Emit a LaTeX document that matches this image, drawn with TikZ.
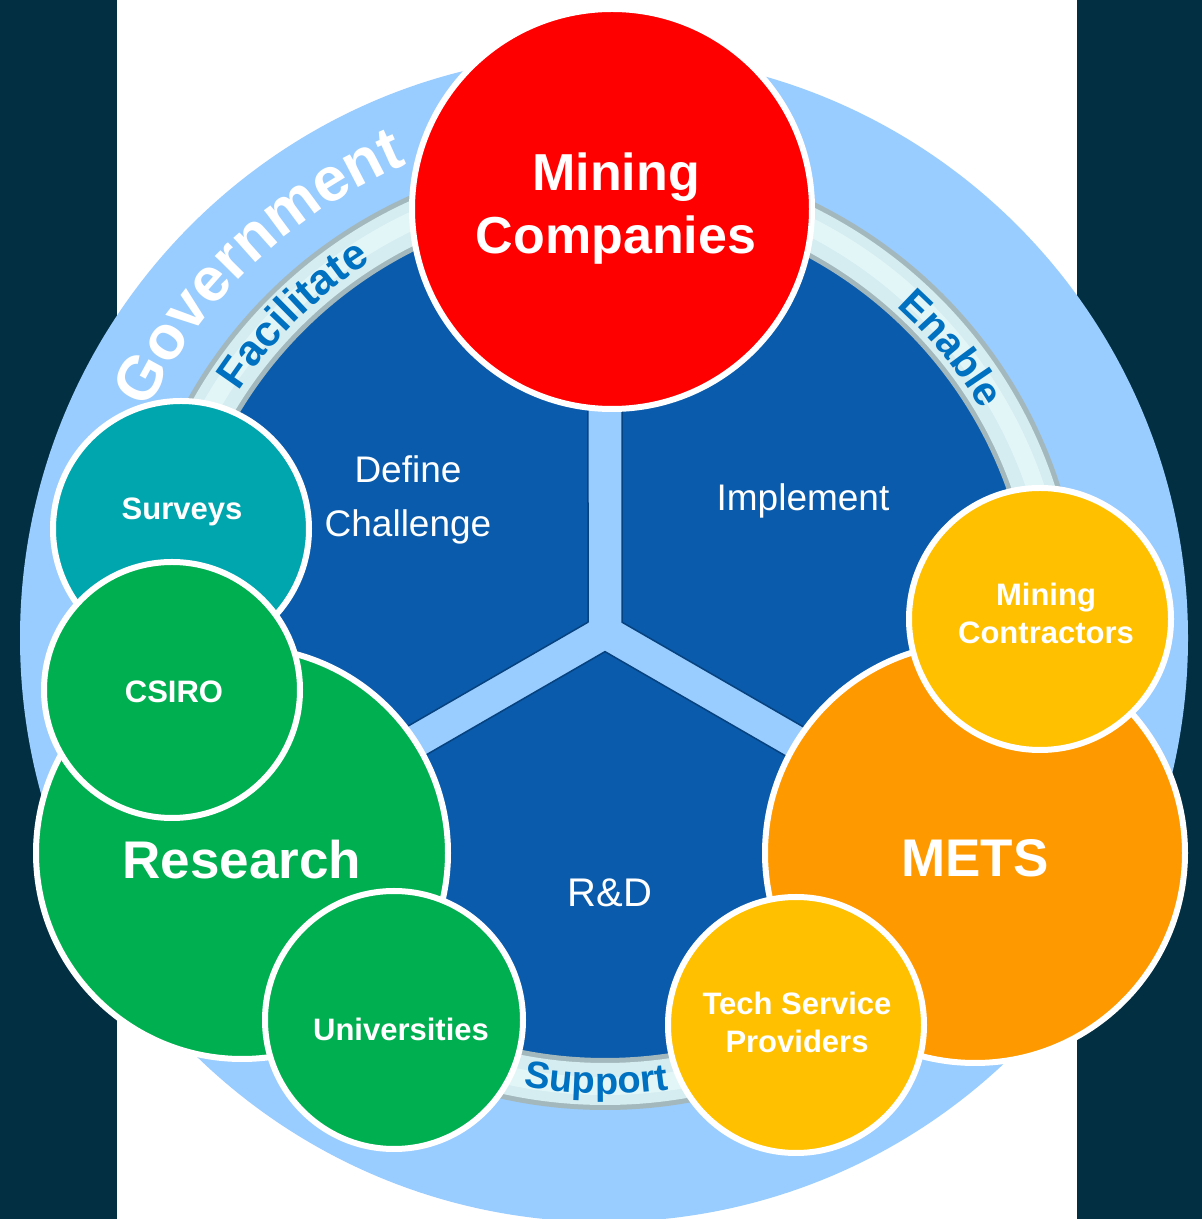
\documentclass[tikz,border=0pt]{standalone}
\usepackage{fontspec}
\setmainfont{Liberation Sans}
\usetikzlibrary{decorations.text,calc}
\definecolor{navy}{HTML}{032F42}
\definecolor{lblue}{HTML}{99CCFF}
\definecolor{secblue}{HTML}{0A5BAB}
\definecolor{secedge}{HTML}{06427F}
\definecolor{ringpale}{HTML}{D5EDF0}
\definecolor{ringgray}{HTML}{A3B8BC}
\definecolor{ringhi}{HTML}{E2F6F8}
\definecolor{cred}{HTML}{FF0000}
\definecolor{cteal}{HTML}{00A6AD}
\definecolor{cgreen}{HTML}{00AF50}
\definecolor{corange}{HTML}{FF9900}
\definecolor{cyellow}{HTML}{FFC000}
\definecolor{ringtext}{HTML}{0070C0}
\begin{document}
\begin{tikzpicture}[x=1pt,y=1pt,
  bubble/.style={circle, draw=white, line width=6pt, inner sep=0pt, outer sep=0pt},
  lbl/.style={anchor=base, text=white, inner sep=0pt, font=\fontsize{#1}{#1}\selectfont\bfseries},
  seclbl/.style={anchor=base, text=white, inner sep=0pt, font=\fontsize{#1}{#1}\selectfont},
  sector/.style={fill=secblue, draw=secedge, line width=1.5pt, line join=round},
]
\useasboundingbox (0,0) rectangle (1202,1219);
\coordinate (C) at (605,587);
\coordinate (O) at (604,581);
% background
\fill[white] (0,0) rectangle (1202,1219);
\fill[navy] (0,0) rectangle (117,1219);
\fill[navy] (1077,0) rectangle (1202,1219);
\fill[lblue] (O) circle[radius=584];
% sectors
\draw[sector] ($(C)+(150:19.63)$) -- ($(C)+(92.28:428)$) arc[start angle=92.28, end angle=207.72, radius=428] -- cycle;
\draw[sector] ($(C)+(30:19.63)$) -- ($(C)+(87.72:428)$) arc[start angle=87.72, end angle=-27.72, radius=428] -- cycle;
\draw[sector] ($(C)+(270:19.63)$) -- ($(C)+(212.28:428)$) arc[start angle=212.28, end angle=327.72, radius=428] -- cycle;
% ring
\draw[ringgray, line width=52pt] (C) circle[radius=452];
\draw[ringpale, line width=42pt] (C) circle[radius=452];
\draw[ringhi, line width=18pt] (C) circle[radius=454];
% ring labels
\path[decorate, decoration={text along path, text align=center,
  text={|\fontsize{43}{43}\selectfont\bfseries\color{ringtext}|Facilitate}}]
  ($(C)+(165:438)$) arc[start angle=165, end angle=104, radius=438];
\path[decorate, decoration={text along path, text align=center,
  text={|\fontsize{41}{41}\selectfont\bfseries\color{ringtext}|Enable}}]
  ($(C)+(70:437)$) arc[start angle=70, end angle=8.6, radius=437];
\path[decorate, decoration={text along path, text align=center,
  text={|\fontsize{38}{38}\selectfont\bfseries\color{ringtext}|Support}}]
  ($(C)+(240:462)$) arc[start angle=240, end angle=297.8, radius=462];
\path[decorate, decoration={text along path, text align=center,
  text={|\fontsize{62}{62}\selectfont\bfseries\color{white}|Government}}]
  ($(C)+(175:508)$) arc[start angle=175, end angle=92, radius=508];
% sector labels
\node[seclbl=37] (def1) at (408,736) {Define};
\node[seclbl=37] (def2) at (408,682) {Challenge};
\node[seclbl=37] (impl) at (803,708) {Implement};
\node[seclbl=40] (rd) at (610,312) {R\&D};
% bubbles
\node[bubble, fill=cred, minimum size=400pt] (mc) at (612,1010) {};
\node[bubble, fill=cteal, minimum size=256pt] (sv) at (181,690) {};
\node[bubble, fill=cgreen, minimum size=412pt] (rs) at (242,366) {};
\node[bubble, fill=cgreen, minimum size=256pt] (cs) at (172,529) {};
\node[bubble, fill=cgreen, minimum size=258pt] (un) at (394,199) {};
\node[bubble, fill=corange, minimum size=420pt] (me) at (975,366) {};
\node[bubble, fill=cyellow, minimum size=262pt] (mcon) at (1040,600) {};
\node[bubble, fill=cyellow, minimum size=256pt] (tsp) at (796,194) {};
% bubble labels
\node[lbl=52] (mcl1) at (616,1028) {Mining};
\node[lbl=52] (mcl2) at (616,965) {Companies};
\node[lbl=31] (svl) at (182,699) {Surveys};
\node[lbl=31] (csl) at (174,516) {CSIRO};
\node[lbl=53] (rsl) at (242,340) {Research};
\node[lbl=31] (unl) at (401,178) {Universities};
\node[lbl=53] (mel) at (975,342) {METS};
\node[lbl=31] (mconl1) at (1046,613) {Mining};
\node[lbl=31] (mconl2) at (1046,575) {Contractors};
\node[lbl=31] (tspl1) at (797,204) {Tech Service};
\node[lbl=31] (tspl2) at (797,166) {Providers};
\end{tikzpicture}
\end{document}
